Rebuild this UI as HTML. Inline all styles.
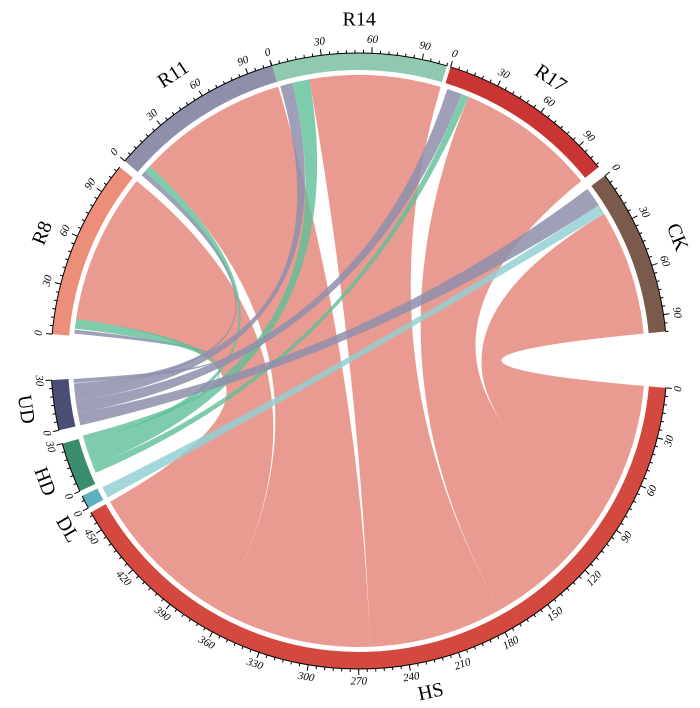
<!DOCTYPE html>
<html><head><meta charset="utf-8"><style>
html,body{margin:0;padding:0;background:#fff;}
svg{display:block;}
text{font-family:"Liberation Serif",serif;}
</style></head><body>
<svg id="s" width="700" height="708" viewBox="0 0 700 708" xmlns="http://www.w3.org/2000/svg"></svg>
<script>
var cx=359,cy=361,R0=291,R1=308,RC=286,k=0.315;
var s=document.getElementById('s');var out='';
function P(a,r){var t=a*Math.PI/180;return [cx+r*Math.sin(t),cy-r*Math.cos(t)];}
function f(p){return p[0].toFixed(2)+','+p[1].toFixed(2);}
var segs=[
 {n:'R14',a:-16.5,u:105,c:'#8ec9b0'},
 {n:'R17',a:17.3,u:107,c:'#c93532'},
 {n:'CK',a:53,u:100,c:'#7a5a4a'},
 {n:'HS',a:95,u:462,c:'#d4493f'},
 {n:'DL',a:241.5,u:8,c:'#5cb0bf'},
 {n:'HD',a:245,u:30,c:'#3c8c6e'},
 {n:'UD',a:257,u:30,c:'#4a4e74'},
 {n:'R8',a:275,u:108,c:'#ec8f7a'},
 {n:'R11',a:310.5,u:105,c:'#8e8fab'}
];
function rib(a1,a2,b1,b2,col,op){
 var p1=P(a1,RC),p2=P(a2,RC),q1=P(b1,RC),q2=P(b2,RC),c=[cx,cy];
 var la1=(a2-a1)>180?1:0,lb=(b2-b1)>180?1:0;
 out+='<path d="M'+f(p1)+' A'+RC+','+RC+' 0 '+la1+' 1 '+f(p2)+' Q'+f(c)+' '+f(q1)+' A'+RC+','+RC+' 0 '+lb+' 1 '+f(q2)+' Q'+f(c)+' '+f(p1)+'Z" fill="'+col+'" fill-opacity="'+op+'"/>';
}
// HS ribbons
var hsp=[['CK',59,84.5],['R17',22.5,51],['R14',-10,16.6],['R11',313,343.6],['R8',278.5,309]];
var tot=0;hsp.forEach(function(h){tot+=h[2]-h[1];});var fac=145.5/tot;var hs=95;
hsp.forEach(function(h){var w=(h[2]-h[1])*fac;rib(h[1],h[2],hs,hs+w,'#e9968b',0.95);hs+=w;});
// minor ribbons
var pur='#8e8fab',grn='#5fbf98',lt='#93d0d3';
rib(275.5,276.3,265.6,266.4,pur,0.85);
rib(276.5,278.5,253.5,254.9,grn,0.8);
rib(310.5,311.5,264.5,265.5,pur,0.85);
rib(311.5,313,252,253.5,grn,0.8);
rib(-16,-13.5,262,264.5,pur,0.85);
rib(-13.5,-10,248.5,252,grn,0.8);
rib(18,21,259.5,262,pur,0.85);
rib(21,22.5,247,248.5,grn,0.8);
rib(53,57,257,259.5,pur,0.85);
rib(57,59,241.5,243.8,lt,0.85);
// ring + ticks
segs.forEach(function(g){
 var a1=g.a,a2=g.a+g.u*k;
 var o1=P(a1,R1),o2=P(a2,R1),i1=P(a1,R0),i2=P(a2,R0);var la=(a2-a1)>180?1:0;
 out+='<path d="M'+f(o1)+' A'+R1+','+R1+' 0 '+la+' 1 '+f(o2)+' L'+f(i2)+' A'+R0+','+R0+' 0 '+la+' 0 '+f(i1)+'Z" fill="'+g.c+'"/>';
 out+='<path d="M'+f(o1)+' A'+R1+','+R1+' 0 '+la+' 1 '+f(o2)+'" fill="none" stroke="#000" stroke-width="1"/>';
 for(var u=0;u<=g.u;u+=5){var a=a1+u*k;var maj=(u%30==0);var p=P(a,R1),q=P(a,R1+(maj?6:3));
  out+='<line x1="'+p[0].toFixed(2)+'" y1="'+p[1].toFixed(2)+'" x2="'+q[0].toFixed(2)+'" y2="'+q[1].toFixed(2)+'" stroke="#000" stroke-width="1"/>';
  if(maj){var t=P(a,R1+13);var an=((a%360)+360)%360;var rot=(an>90&&an<270)?a+180:a;
   out+='<text x="'+t[0].toFixed(2)+'" y="'+t[1].toFixed(2)+'" font-size="11" font-style="italic" text-anchor="middle" dominant-baseline="middle" transform="rotate('+rot.toFixed(1)+' '+t[0].toFixed(2)+' '+t[1].toFixed(2)+')">'+u+'</text>';}
 }
 var m=(a1+a2)/2;var rr=(g.u<40)?338:340;if(g.n=='DL'){m=240;}if(g.n=='HD')m=249;
 var t=P(m,rr);var an=((m%360)+360)%360;var rot=(an>90&&an<270)?m+180:m;
 out+='<text x="'+t[0].toFixed(2)+'" y="'+t[1].toFixed(2)+'" font-size="20" text-anchor="middle" dominant-baseline="middle" transform="rotate('+rot.toFixed(1)+' '+t[0].toFixed(2)+' '+t[1].toFixed(2)+')">'+g.n+'</text>';
});
s.innerHTML=out;
</script>
</body></html>
